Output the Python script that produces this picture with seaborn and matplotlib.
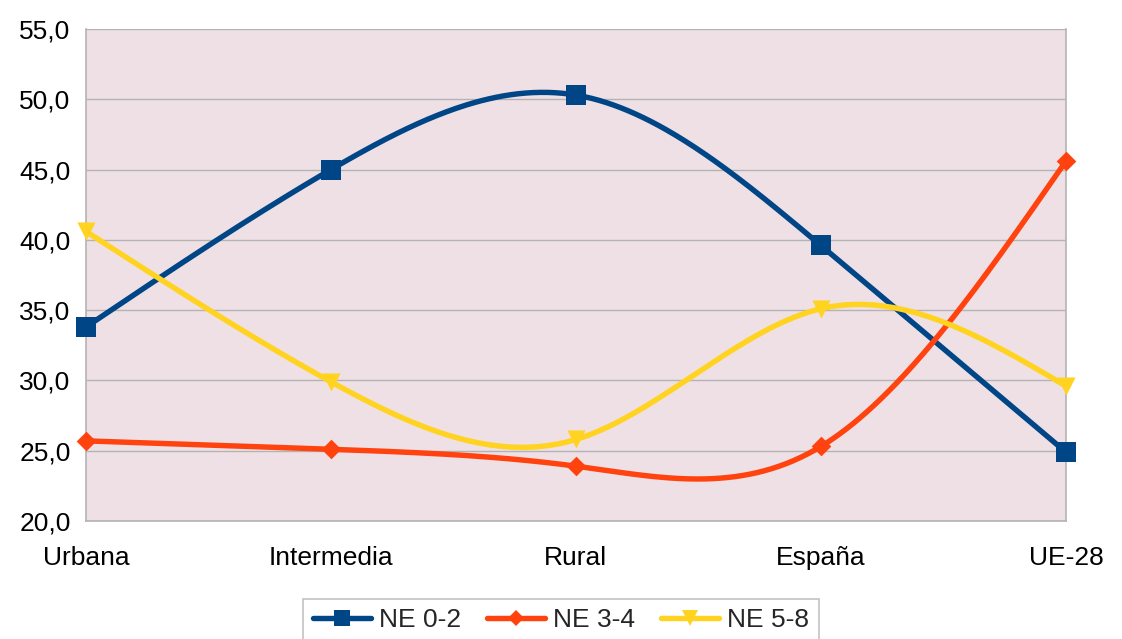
import numpy as np
import pandas as pd
import matplotlib
matplotlib.use("Agg")
import matplotlib.pyplot as plt
import seaborn as sns
from matplotlib.ticker import FuncFormatter, MultipleLocator

# data
categories = ['Urbana', 'Intermedia', 'Rural', 'España', 'UE-28']
ne_0_2 = [33.8, 45.0, 50.3, 39.6, 24.9]
ne_3_4 = [25.7, 25.1, 23.9, 25.3, 45.6]
ne_5_8 = [40.6, 29.9, 25.8, 35.1, 29.6]
series_names = ['NE 0-2', 'NE 3-4', 'NE 5-8']

colors = ['#004586', '#ff420e', '#ffd320']
markers = ['s', 'D', 'v']
msizes = [14, 10, 13]

df = pd.DataFrame({'Zona': categories, 'NE 0-2': ne_0_2, 'NE 3-4': ne_3_4, 'NE 5-8': ne_5_8})
df['x'] = np.arange(len(categories))


def natural_spline(x, y, n=400):
    # natural cubic spline, only used to draw the smooth line between the points
    x = np.asarray(x, float)
    y = np.asarray(y, float)
    k = len(x)
    h = np.diff(x)
    A = np.zeros((k, k))
    b = np.zeros(k)
    A[0, 0] = A[-1, -1] = 1
    for i in range(1, k - 1):
        A[i, i - 1] = h[i - 1]
        A[i, i] = 2 * (h[i - 1] + h[i])
        A[i, i + 1] = h[i]
        b[i] = 6 * ((y[i + 1] - y[i]) / h[i] - (y[i] - y[i - 1]) / h[i - 1])
    m = np.linalg.solve(A, b)
    xs = np.linspace(x[0], x[-1], n)
    idx = np.clip(np.searchsorted(x, xs) - 1, 0, k - 2)
    x0, x1 = x[idx], x[idx + 1]
    hh = x1 - x0
    t0, t1 = x1 - xs, xs - x0
    ys = (m[idx] * t0 ** 3 + m[idx + 1] * t1 ** 3) / (6 * hh) \
        + (y[idx] / hh - m[idx] * hh / 6) * t0 + (y[idx + 1] / hh - m[idx + 1] * hh / 6) * t1
    return xs, ys


sns.set_style("white")
plt.rcParams['font.family'] = ['Liberation Sans', 'DejaVu Sans']

fig = plt.figure(figsize=(11.22, 6.39), dpi=100)
ax = fig.add_axes([0.0766, 0.1847, 0.8734, 0.7699])
ax.set_facecolor('#eee0e5')

for name, c, mk, ms in zip(series_names, colors, markers, msizes):
    xs, ys = natural_spline(df['x'], df[name])
    sns.lineplot(x=xs, y=ys, ax=ax, color=c, linewidth=3.9, zorder=3, clip_on=False)
    sns.scatterplot(x=df['x'], y=df[name], ax=ax, color=c, marker=mk, s=ms ** 2,
                    linewidth=0, zorder=4, clip_on=False)

ax.set_xlim(0, len(categories) - 1)
ax.set_ylim(20, 55)
ax.yaxis.set_major_locator(MultipleLocator(5))
ax.yaxis.set_major_formatter(FuncFormatter(lambda v, p: f'{v:.1f}'.replace('.', ',')))
ax.set_xticks(df['x'])
ax.set_xticklabels(categories)
ax.grid(axis='y', color='#b3b3b3', linewidth=1)
ax.set_axisbelow(True)
ax.spines['top'].set_visible(False)
for s in ['left', 'right', 'bottom']:
    ax.spines[s].set_color('#b3b3b3')
    ax.spines[s].set_linewidth(1.2)
ax.tick_params(axis='both', which='both', length=8, color='#b3b3b3', width=1.2,
               labelsize=19, colors='black')
ax.tick_params(axis='y', pad=3)
ax.tick_params(axis='x', pad=10)
ax.set_xlabel('')
ax.set_ylabel('')

handles = [plt.Line2D([], [], color=c, marker=mk, markersize=ms * 0.85, linewidth=3.9,
                      markeredgewidth=0)
           for c, mk, ms in zip(colors, markers, msizes)]
leg = fig.legend(handles, series_names, loc='lower center', bbox_to_anchor=(0.5, -0.024),
                 ncol=3, fontsize=19, frameon=True, fancybox=False, handlelength=2.2,
                 handletextpad=0.3, columnspacing=1.0, borderpad=0.35)
leg.get_frame().set_edgecolor('#b3b3b3')
leg.get_frame().set_linewidth(1.2)

fig.savefig('out.png', dpi=100)
